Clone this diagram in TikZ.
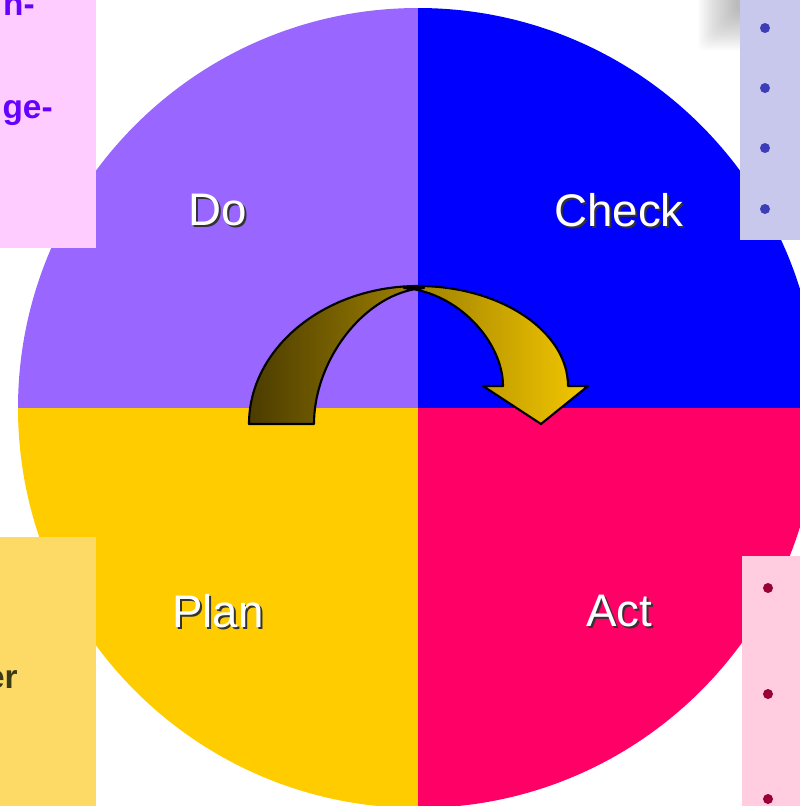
\documentclass[tikz,border=0pt]{standalone}
\usepackage{fontspec}
\setmainfont{Liberation Sans}
\definecolor{doviolet}{HTML}{9966FF}
\definecolor{checkblue}{HTML}{0000FF}
\definecolor{planyellow}{HTML}{FFCC00}
\definecolor{actpink}{HTML}{FF0066}
\definecolor{boxpink}{HTML}{FFCCFF}
\definecolor{boxlav}{HTML}{C8C8EC}
\definecolor{boxgold}{HTML}{FDD966}
\definecolor{boxrose}{HTML}{FFCCE0}
\definecolor{txtpurple}{HTML}{6600FF}
\definecolor{txtolive}{HTML}{3A3A14}
\definecolor{dotblue}{HTML}{3D3DB8}
\definecolor{dotred}{HTML}{990033}
\definecolor{arrowdark}{HTML}{4B3C00}
\definecolor{arrowmid}{HTML}{8A7000}
\definecolor{arrowgold}{HTML}{F5C800}
\tikzset{
  phase/.style={font=\fontsize{26}{30}\selectfont, text=white, inner sep=0pt},
  phaseshadow/.style={font=\fontsize{26}{30}\selectfont, text=black!80, inner sep=0pt},
  sidetext/.style={font=\bfseries\fontsize{19}{23}\selectfont, inner sep=0pt, anchor=base east},
}
\begin{document}
\begin{tikzpicture}[x=0.02cm, y=-0.02cm]
\useasboundingbox (0,0) rectangle (800,806);
\begin{scope}
\clip (0,0) rectangle (800,806);

% soft shadow behind the upper right panel
\foreach \i in {0,...,19}
  \fill[black, opacity=0.016, rounded corners=4] (698+2*\i,-10) rectangle (770,50-2*\i);

% the four quadrants of the cycle
\coordinate (c) at (418,408);
\fill[doviolet]   (c) -- (18,408)  arc[start angle=180, end angle=90,  radius=400*0.02cm] -- cycle;
\fill[checkblue]  (c) -- (418,8)   arc[start angle=90,  end angle=0,   radius=400*0.02cm] -- cycle;
\fill[planyellow] (c) -- (18,408)  arc[start angle=180, end angle=270, radius=400*0.02cm] -- cycle;
\fill[actpink]    (c) -- (818,408) arc[start angle=0,   end angle=-90, radius=400*0.02cm] -- cycle;
\end{scope}

% phase labels with drop shadow
\foreach \nm/\x/\y/\t in {do/218/210/Do, check/619/210/Check, plan/218/611/Plan, act/619/611/Act} {
  \node[phaseshadow] (\nm-s) at (\x+2,\y+2) {\t};
  \node[phase] (\nm) at (\x,\y) {\t};
}

% curved arrow from Plan over Do/Check to Act
\shade[left color=arrowdark, middle color=arrowmid, right color=arrowgold,
       draw=black, line width=1.2pt, line join=round]
  (249,424) .. controls (249,348) and (325,286) .. (418,286)
  .. controls (500,286) and (568,331) .. (568,386)
  -- (588,386) -- (541,424) -- (483,386) -- (503,386)
  .. controls (503,342) and (458,292) .. (404,288)
  -- (424,288)
  .. controls (365,292) and (314,360) .. (314,424)
  -- cycle;

% side panels
\fill[boxpink] (0,0) rectangle (96,248);
\fill[boxlav]  (740,0) rectangle (800,240);
\fill[boxgold] (0,537) rectangle (96,806);
\fill[boxrose] (742,556) rectangle (800,806);

\begin{scope}
\clip (0,0) rectangle (800,806);
\node[sidetext, text=txtpurple] (tl1) at (35,15) {n-};
\node[sidetext, text=txtpurple] (tl2) at (53,118) {ge-};
\node[sidetext, text=txtolive] (bl1) at (18,688) {er};
\end{scope}

% list bullets in the right-hand panels
\foreach \y in {28,88,148,209}
  \fill[dotblue] (765,\y) circle[radius=0.1cm];
\foreach \y in {588,694,799}
  \fill[dotred] (768,\y) circle[radius=0.1cm];
\end{tikzpicture}
\end{document}
